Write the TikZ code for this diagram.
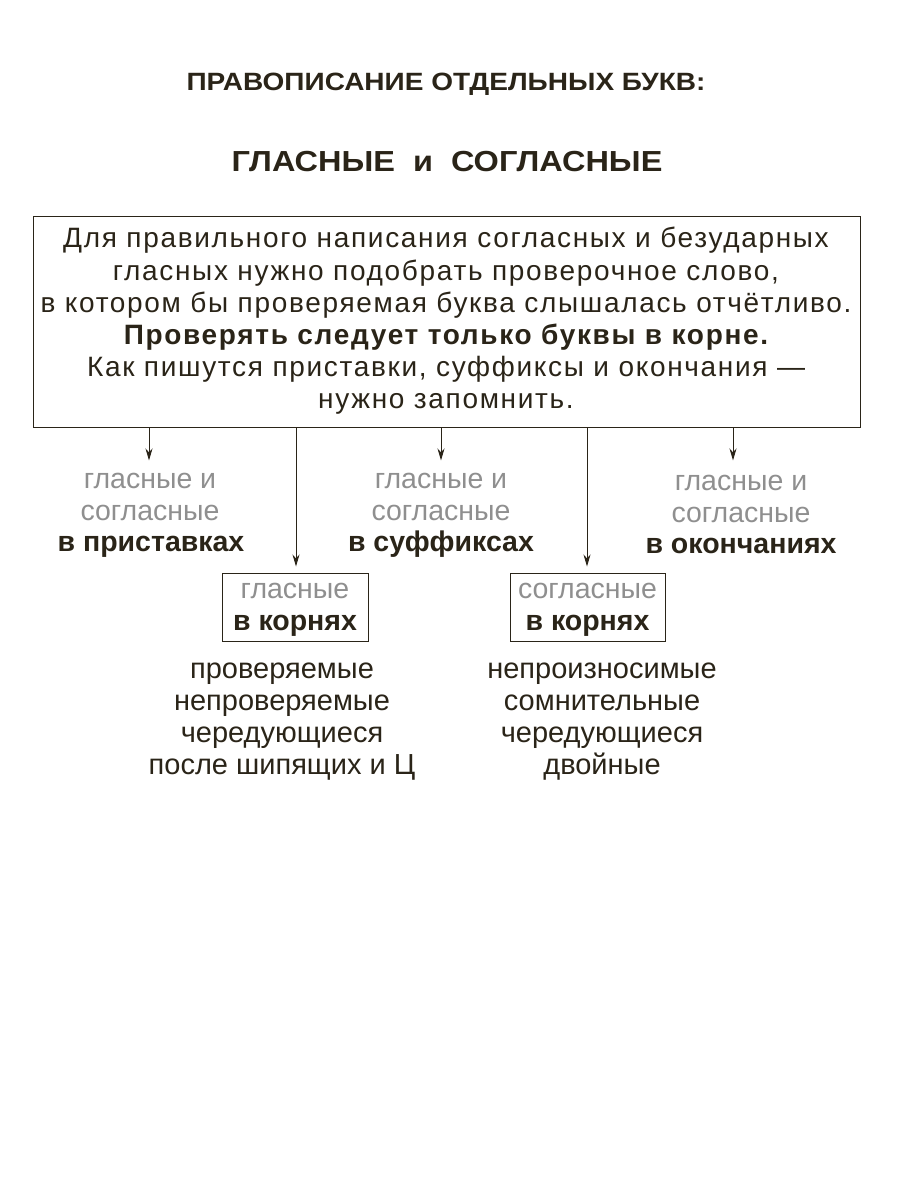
\documentclass[tikz,border=0pt]{standalone}
\usepackage{fontspec}
\setmainfont{Liberation Sans}
\newfontfamily\narrowfont[FakeStretch=1.0,LetterSpace=6]{Liberation Sans}
\newfontfamily\widefont[FakeStretch=1.12]{Liberation Sans}
\usetikzlibrary{arrows.meta}
\definecolor{ink}{HTML}{2A2418}
\definecolor{greytxt}{HTML}{8F8F8F}
\tikzset{
  every node/.style={text=ink, inner sep=0pt},
  link/.style={draw=ink, line width=1pt, -{Stealth[length=12pt,width=7pt]}},
  graylabel/.style={font=\fontsize{28.5}{32}\selectfont, text=greytxt, anchor=base},
  boldlabel/.style={font=\fontsize{28.5}{32}\selectfont\bfseries, anchor=base},
  listtext/.style={font=\fontsize{29}{32}\selectfont, anchor=base},
  smallbox/.style={draw=ink, line width=1pt, minimum height=68pt, inner sep=0pt}
}
\begin{document}
\begin{tikzpicture}[x=1pt,y=-1pt]
\useasboundingbox (0,0) rectangle (900,1200);
\node[font=\widefont\fontsize{25}{28}\selectfont\bfseries] (t1) at (446,84) {ПРАВОПИСАНИЕ ОТДЕЛЬНЫХ БУКВ:};
\node[font=\widefont\fontsize{29}{36}\selectfont\bfseries] (t2) at (447,162) {ГЛАСНЫЕ \ и \ СОГЛАСНЫЕ};
\node[draw=ink, line width=1pt, minimum width=827pt, minimum height=211pt] (main) at (446.5,321.5) {};
\node[font=\narrowfont\fontsize{28}{32.2}\selectfont, align=center] (mt) at (446,321) {Для правильного написания согласных и безударных\\
гласных нужно подобрать проверочное слово,\\
в котором бы проверяемая буква слышалась отчётливо.\\
{\bfseries Проверять следует только буквы в корне.}\\
Как пишутся приставки, суффиксы и окончания —\\
нужно запомнить.};
\coordinate (o1) at (149,427);
\coordinate (o2) at (296,427);
\coordinate (o3) at (441,427);
\coordinate (o4) at (587,427);
\coordinate (o5) at (733,427);
% top labels
\node[graylabel] (l1) at (150,488) {гласные и};
\node[graylabel] (l1b) at (150,520) {согласные};
\node[boldlabel] (b1) at (151,551) {в приставках};
\node[graylabel] (l3) at (441,488) {гласные и};
\node[graylabel] (l3b) at (441,520) {согласные};
\node[boldlabel] (b3) at (441,551) {в суффиксах};
\node[graylabel] (l5) at (741,490) {гласные и};
\node[graylabel] (l5b) at (741,522) {согласные};
\node[boldlabel] (b5) at (741,553) {в окончаниях};
\draw[link, shorten >=12pt] (o1) -- (l1.north -| o1);
\draw[link, shorten >=12pt] (o3) -- (l3.north -| o3);
\draw[link, shorten >=14pt] (o5) -- (l5.north -| o5);
% root boxes
\node[smallbox, minimum width=146pt] (r1) at (295,607) {};
\node[graylabel] (r1a) at (295,598) {гласные};
\node[boldlabel] (r1b) at (295,630) {в корнях};
\node[smallbox, minimum width=155pt] (r2) at (587.5,607) {};
\node[graylabel] (r2a) at (587.5,598) {согласные};
\node[boldlabel] (r2b) at (587.5,630) {в корнях};
\draw[link, shorten >=6pt] (o2) -- (r1.north -| o2);
\draw[link, shorten >=6pt] (o4) -- (r2.north -| o4);
% lists
\node[listtext] (p1) at (282,678) {проверяемые};
\node[listtext] (p2) at (282,710) {непроверяемые};
\node[listtext] (p3) at (282,742) {чередующиеся};
\node[listtext] (p4) at (282,774) {после шипящих и Ц};
\node[listtext] (q1) at (602,678) {непроизносимые};
\node[listtext] (q2) at (602,710) {сомнительные};
\node[listtext] (q3) at (602,742) {чередующиеся};
\node[listtext] (q4) at (602,774) {двойные};
\end{tikzpicture}
\end{document}
